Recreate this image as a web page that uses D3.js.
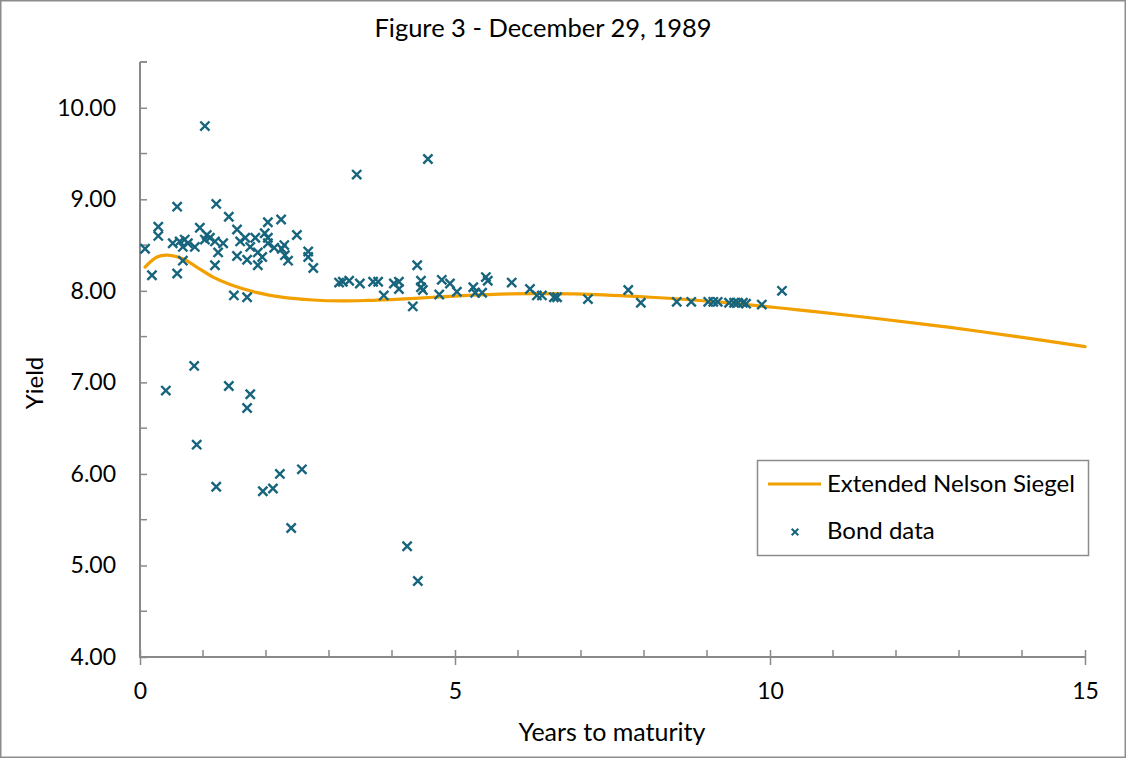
<!DOCTYPE html>
<html>
<head>
<meta charset="utf-8">
<script src="https://cdn.jsdelivr.net/npm/d3@7"></script>
<style>
  html, body { margin: 0; padding: 0; background: #fff; }
  svg { display: block; font-family: Lato, "Open Sans", sans-serif; }
</style>
</head>
<body>
<svg id="chart" width="1126" height="758"></svg>
<script>
// Bond observations: maturity in years and yield in percent
const bondMaturity = [
  0.08, 0.19, 0.29, 0.29, 0.41, 0.59, 0.52, 0.63, 0.71, 0.76, 0.68, 0.87, 0.68, 0.59,
  1.03, 0.95, 1.03, 1.06, 1.11, 1.19, 1.21, 1.32, 1.24, 1.19, 1.41, 1.54, 1.59, 1.67,
  1.83, 1.75, 2.03, 2.24, 1.98, 2.03, 2.03, 2.13, 2.29, 2.25, 2.49, 1.54, 1.87, 1.70,
  1.94, 1.87, 2.30, 2.35, 2.67, 2.67, 2.75,
  1.49, 1.70, 0.86, 1.41, 1.75, 1.70, 0.90, 2.22, 2.57, 1.21, 1.95, 2.11, 2.40, 4.24, 4.41,
  3.44, 4.57, 3.16, 3.22, 3.32, 3.49, 3.70, 3.78, 3.87, 4.03, 4.11, 4.11, 4.33, 4.40,
  4.46, 4.46, 4.49, 4.75, 4.79, 4.92, 5.03, 5.29, 5.32, 5.43, 5.49, 5.52, 5.90, 6.19,
  6.30, 6.38, 6.57, 6.62, 7.11, 7.75, 7.95, 8.52, 8.75, 9.02, 9.10, 9.17, 9.35, 9.43,
  9.49, 9.57, 9.62, 9.87, 10.19
];
const bondYield = [
  8.46, 8.17, 8.70, 8.60, 6.91, 8.92, 8.52, 8.54, 8.56, 8.52, 8.48, 8.48, 8.33, 8.19,
  9.80, 8.69, 8.56, 8.61, 8.58, 8.54, 8.95, 8.52, 8.42, 8.28, 8.81, 8.67, 8.54, 8.58,
  8.58, 8.48, 8.75, 8.78, 8.63, 8.58, 8.52, 8.47, 8.50, 8.46, 8.61, 8.38, 8.42, 8.34,
  8.37, 8.28, 8.39, 8.33, 8.43, 8.37, 8.25,
  7.95, 7.93, 7.18, 6.96, 6.87, 6.72, 6.32, 6.00, 6.05, 5.86, 5.81, 5.84, 5.41, 5.21, 4.83,
  9.27, 9.44, 8.09, 8.10, 8.11, 8.08, 8.10, 8.10, 7.95, 8.08, 8.10, 8.02, 7.83, 8.28,
  8.11, 8.04, 8.01, 7.96, 8.12, 8.08, 7.99, 8.04, 7.98, 7.98, 8.15, 8.11, 8.09, 8.02,
  7.95, 7.95, 7.93, 7.93, 7.91, 8.01, 7.87, 7.88, 7.88, 7.88, 7.88, 7.88, 7.87, 7.87,
  7.87, 7.87, 7.86, 7.85, 8.00
];

// Fitted Extended Nelson Siegel curve
const curveMaturity = [
  0.08, 0.27, 0.43, 0.68, 0.90, 1.16, 1.43, 1.86, 2.22, 2.75, 3.20, 3.60, 4.13, 4.65,
  5.19, 5.71, 6.24, 7.03, 8.10, 9.16, 10.21, 10.75, 11.79, 12.86, 13.92, 15.00
];
const curveYield = [
  8.26, 8.37, 8.39, 8.35, 8.26, 8.15, 8.07, 7.98, 7.935, 7.90, 7.89, 7.895, 7.91, 7.93,
  7.95, 7.965, 7.97, 7.965, 7.93, 7.88, 7.81, 7.77, 7.69, 7.60, 7.50, 7.39
];

const xTickValues = [0, 5, 10, 15];
const yTickValues = [4, 5, 6, 7, 8, 9, 10];
const seriesNames = ["Extended Nelson Siegel", "Bond data"];
const titleText = "Figure 3 - December 29, 1989";
const xTitle = "Years to maturity";
const yTitle = "Yield";

const W = 1126, H = 758;
const plot = { left: 140, right: 1085, top: 62, bottom: 657 };
const axisColor = "#898989";
const lineColor = "#f2a000";
const markColor = "#17657d";
const fontStack = "Lato, 'Open Sans', sans-serif";

const svg = d3.select("#chart");

// outer chart border
svg.append("rect")
  .attr("x", 0.75).attr("y", 0.75)
  .attr("width", W - 1.5).attr("height", H - 1.5)
  .attr("fill", "#fff").attr("stroke", "#8c8c8c").attr("stroke-width", 1.5);

const x = d3.scaleLinear().domain([0, 15]).range([plot.left, plot.right]);
const y = d3.scaleLinear().domain([4, 10.5]).range([plot.bottom, plot.top]);

// title
svg.append("text")
  .attr("x", 543).attr("y", 37)
  .attr("text-anchor", "middle")
  .attr("font-size", 25.5)
  .attr("fill", "#000")
  .text(titleText);

// minor ticks (inside the plot)
const minorX = d3.range(1, 16).filter(v => v % 5 !== 0);
svg.append("g").selectAll("line").data(minorX).join("line")
  .attr("x1", d => x(d)).attr("x2", d => x(d))
  .attr("y1", plot.bottom).attr("y2", plot.bottom - 7)
  .attr("stroke", axisColor).attr("stroke-width", 1.5);
const minorY = d3.range(4.5, 10.6, 1);
svg.append("g").selectAll("line").data(minorY).join("line")
  .attr("x1", plot.left).attr("x2", plot.left + 7)
  .attr("y1", d => y(d)).attr("y2", d => y(d))
  .attr("stroke", axisColor).attr("stroke-width", 1.5);

// x axis
const xAxis = d3.axisBottom(x).tickValues(xTickValues).tickFormat(d3.format("d")).tickSize(8).tickSizeOuter(0);
const gx = svg.append("g").attr("transform", `translate(0,${plot.bottom})`).call(xAxis);
gx.select(".domain").attr("stroke", axisColor).attr("stroke-width", 2)
  .attr("d", `M${plot.left},0H${plot.right}`);
gx.selectAll(".tick line").attr("stroke", axisColor).attr("stroke-width", 1.5).attr("y1", -7);
gx.selectAll(".tick text").attr("font-size", 23).attr("fill", "#000").attr("dy", "0.71em").attr("y", 26)
  .attr("font-family", fontStack);

// y axis
const yAxis = d3.axisLeft(y).tickValues(yTickValues).tickFormat(d3.format(".2f")).tickSize(7).tickSizeOuter(0);
const gy = svg.append("g").attr("transform", `translate(${plot.left},0)`).call(yAxis);
gy.select(".domain").attr("stroke", axisColor).attr("stroke-width", 2)
  .attr("d", `M0,${plot.bottom + 1}V${plot.top}`);
gy.selectAll(".tick line").attr("stroke", axisColor).attr("stroke-width", 1.5).attr("x2", 7);
gy.selectAll(".tick text").attr("font-size", 23).attr("fill", "#000").attr("x", -24)
  .attr("font-family", fontStack);
// small tick cap at the top of the y axis
svg.append("line")
  .attr("x1", plot.left).attr("x2", plot.left + 7)
  .attr("y1", y(10.5)).attr("y2", y(10.5))
  .attr("stroke", axisColor).attr("stroke-width", 1.5);

// axis titles
svg.append("text")
  .attr("x", 612).attr("y", 741)
  .attr("text-anchor", "middle").attr("font-size", 25).attr("fill", "#000")
  .text(xTitle);
svg.append("text")
  .attr("transform", `translate(43,${383}) rotate(-90)`)
  .attr("text-anchor", "middle").attr("font-size", 24).attr("fill", "#000")
  .text(yTitle);

// fitted curve
const curvePts = curveMaturity.map((m, i) => [m, curveYield[i]]);
svg.append("path")
  .datum(curvePts)
  .attr("fill", "none").attr("stroke", lineColor).attr("stroke-width", 3.2)
  .attr("stroke-linecap", "round")
  .attr("d", d3.line().x(d => x(d[0])).y(d => y(d[1])).curve(d3.curveCatmullRom.alpha(0.5)));

// bond data crosses
const cross = (s) => `M${-s},${-s}L${s},${s}M${-s},${s}L${s},${-s}`;
const bondPts = bondMaturity.map((m, i) => [m, bondYield[i]]);
svg.append("g").selectAll("path").data(bondPts).join("path")
  .attr("transform", d => `translate(${x(d[0])},${y(d[1])})`)
  .attr("d", cross(4.6))
  .attr("fill", "none").attr("stroke", markColor).attr("stroke-width", 2.4);

// legend
const lg = svg.append("g");
lg.append("rect")
  .attr("x", 757.5).attr("y", 460.5).attr("width", 331).attr("height", 95)
  .attr("fill", "#fff").attr("stroke", "#8c8c8c").attr("stroke-width", 1.5);
lg.append("line")
  .attr("x1", 768).attr("x2", 821).attr("y1", 484).attr("y2", 484)
  .attr("stroke", lineColor).attr("stroke-width", 3.2);
lg.append("path")
  .attr("transform", "translate(795,532)")
  .attr("d", cross(3.3))
  .attr("fill", "none").attr("stroke", markColor).attr("stroke-width", 2);
lg.selectAll("text.lbl").data(seriesNames).join("text")
  .attr("class", "lbl")
  .attr("x", 827).attr("y", (d, i) => 484 + i * 47)
  .attr("dy", "0.35em")
  .attr("font-size", 24).attr("fill", "#000")
  .text(d => d);
</script>
</body>
</html>
